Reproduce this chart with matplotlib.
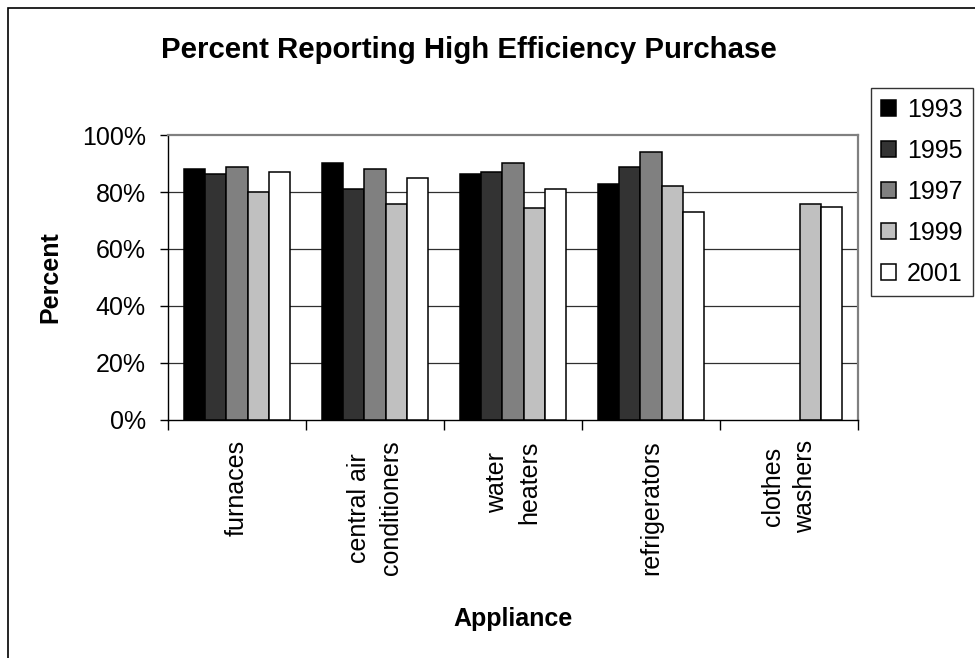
import numpy as np
import matplotlib
matplotlib.use("Agg")
import matplotlib.pyplot as plt
from matplotlib.patches import Rectangle
from matplotlib.ticker import PercentFormatter

plt.rcParams['font.family'] = ['Liberation Sans', 'DejaVu Sans']

# data (percent), nan = no bar
appliances = ["furnaces", "central air\nconditioners", "water\nheaters",
              "refrigerators", "clothes\nwashers"]
years = ["1993", "1995", "1997", "1999", "2001"]
v1993 = [88, 90.4, 86.4, 83, np.nan]
v1995 = [86.4, 81, 87, 89, np.nan]
v1997 = [89, 88, 90.2, 94.2, np.nan]
v1999 = [80, 76, 74.3, 82.3, 76]
v2001 = [87, 85, 81, 73, 74.7]
colors = ["#000000", "#333333", "#808080", "#c0c0c0", "#ffffff"]

series = [v1993, v1995, v1997, v1999, v2001]

fig = plt.figure(figsize=(9.75, 6.58), dpi=100)
ax = fig.add_axes([168/975, 1-419.5/658, 690/975, 284.2/658])

x = np.arange(len(appliances))
w = 0.155
for i, (vals, yr, c) in enumerate(zip(series, years, colors)):
    ax.bar(x + (i - 2) * w, vals, width=w, color=c, edgecolor="black",
           linewidth=1.1, label=yr, zorder=3)

ax.set_xlim(-0.5, len(appliances) - 0.5)
ax.set_ylim(0, 100)
ax.set_yticks([0, 20, 40, 60, 80, 100])
ax.yaxis.set_major_formatter(PercentFormatter(decimals=0))
ax.tick_params(axis="y", labelsize=18, length=6, width=1, pad=10, direction="out")

# gridlines
for g in [20, 40, 60, 80]:
    ax.axhline(g, color="#303030", linewidth=0.9, zorder=1)

ax.set_xticks(x)
ax.set_xticklabels(appliances, rotation=90, fontsize=18, va="top",
                   ha="center", linespacing=1.45)
ax.tick_params(axis="x", length=0, pad=15)
ax.set_xticks(np.arange(len(appliances) + 1) - 0.5, minor=True)
ax.tick_params(axis="x", which="minor", length=7, width=1, direction="out")

for side in ["top", "right"]:
    ax.spines[side].set_color("#808080")
    ax.spines[side].set_linewidth(1.6)
ax.spines["left"].set_linewidth(1)
ax.spines["bottom"].set_linewidth(1)

ax.set_ylabel("Percent", fontsize=18, fontweight="bold", labelpad=14)
ax.set_xlabel("Appliance", fontsize=18, fontweight="bold", labelpad=23)

fig.text(469/975, 1-50/658, "Percent Reporting High Efficiency Purchase",
         fontsize=21.2, fontweight="bold", ha="center", va="center")

leg = ax.legend(loc="upper left", bbox_to_anchor=(871/975, 1-88/658),
                bbox_transform=fig.transFigure, borderaxespad=0, fontsize=18,
                frameon=True, fancybox=False, edgecolor="black",
                handlelength=0.6, handleheight=0.6, handletextpad=0.45,
                labelspacing=0.68, borderpad=0.4)
leg.get_frame().set_linewidth(1)

# outer chart border (cut off on right and bottom)
fig.patches.append(Rectangle((8/975, -0.2), 1.2, 1.2 - 8/658,
                             transform=fig.transFigure, fill=False,
                             edgecolor="black", linewidth=1.2))

fig.savefig("out.png", dpi=100)
